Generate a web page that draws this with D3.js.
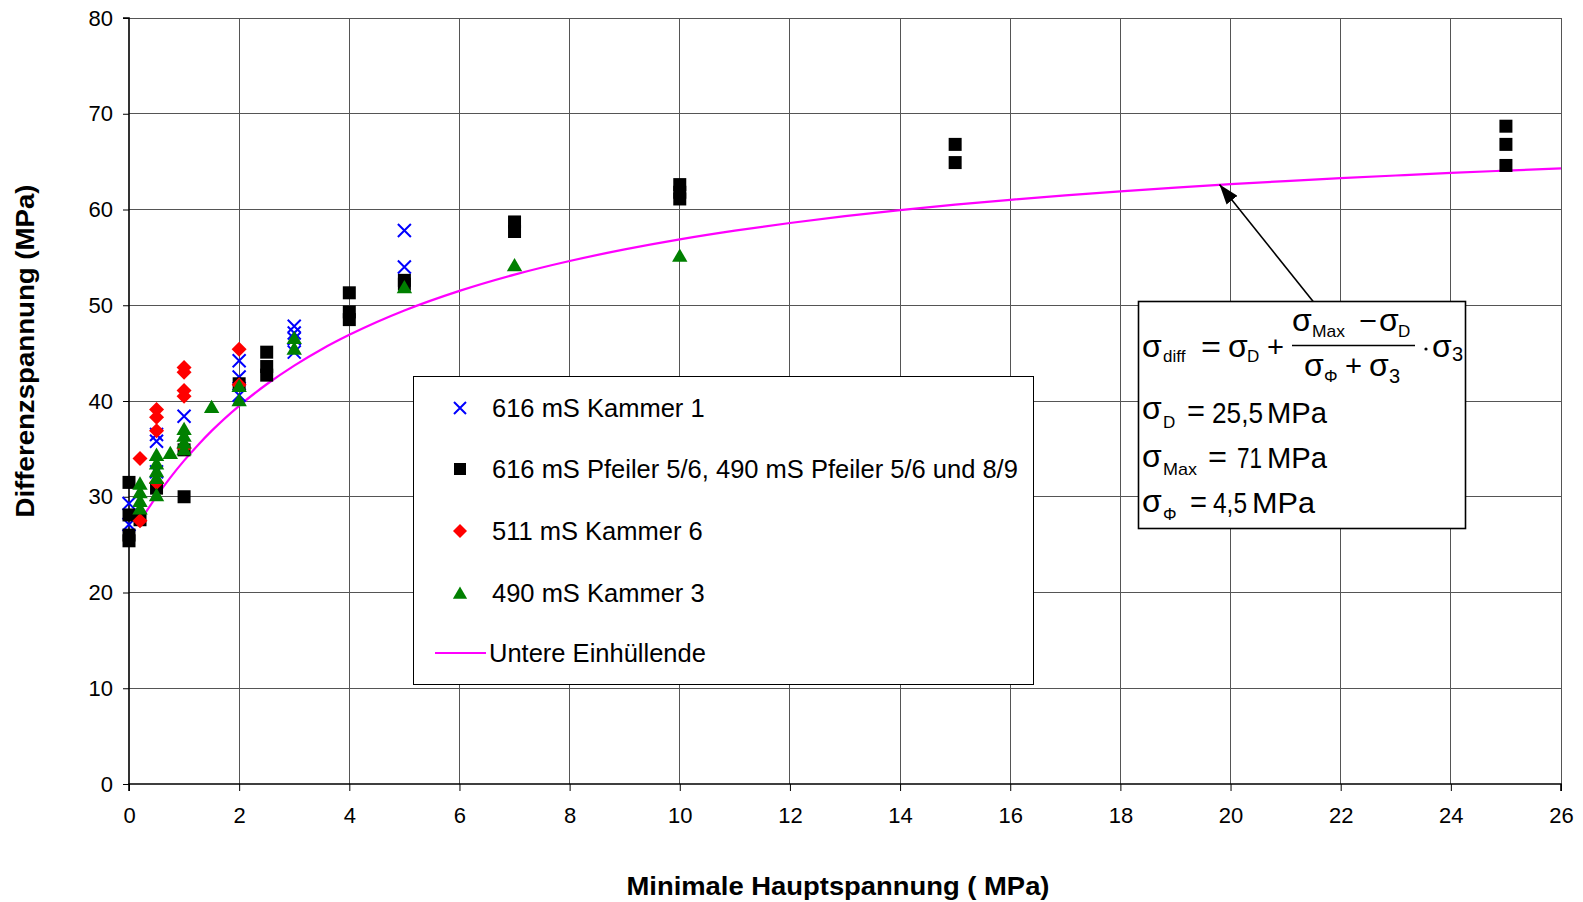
<!DOCTYPE html>
<html>
<head>
<meta charset="utf-8">
<script src="https://cdn.jsdelivr.net/npm/d3@7"></script>
<style>
  html, body { margin: 0; padding: 0; background: #fff; }
  svg { display: block; }
  text { font-family: "Liberation Sans", Arial, sans-serif; }
</style>
</head>
<body>
<svg id="chart" width="1583" height="902"></svg>
<script>
// ---------------- data ----------------
const xTicks = [0, 2, 4, 6, 8, 10, 12, 14, 16, 18, 20, 22, 24, 26];
const yTicks = [0, 10, 20, 30, 40, 50, 60, 70, 80];

const seriesNames = [
  "616 mS Kammer 1",
  "616 mS Pfeiler 5/6, 490 mS Pfeiler 5/6 und 8/9",
  "511 mS Kammer 6",
  "490 mS Kammer 3",
  "Untere Einhüllende"
];

// 616 mS Kammer 1 (blue x)
const kammer1X = [0, 0, 0.5, 0.5, 0.5, 1, 2, 2, 2, 3, 3, 3, 3, 5, 5];
const kammer1Y = [29.3, 27.1, 36.5, 35.8, 32.6, 38.4, 44.2, 42.5, 40.6, 47.8, 47.1, 46.5, 45.1, 57.8, 54.0];

// 616 mS Pfeiler 5/6, 490 mS Pfeiler 5/6 und 8/9 (black squares)
const pfeilerX = [0, 0, 0, 0, 0.2, 0.5, 1, 1, 2, 2.5, 2.5, 2.5, 4, 4, 4, 5, 5, 7, 7, 10, 10, 10, 15, 15, 25, 25, 25];
const pfeilerY = [31.5, 28.1, 26.0, 25.4, 27.6, 30.9, 34.9, 30.0, 41.8, 45.1, 43.6, 42.7, 51.3, 49.3, 48.5, 52.6, 52.2, 58.7, 57.7, 62.6, 61.8, 61.1, 66.8, 64.9, 68.7, 66.8, 64.6];

// 511 mS Kammer 6 (red diamonds)
const kammer6X = [0.2, 0.2, 0.5, 0.5, 0.5, 0.5, 1, 1, 1, 1, 1, 2, 2];
const kammer6Y = [34.0, 27.5, 39.1, 38.3, 36.9, 31.5, 43.5, 43.0, 41.1, 40.5, 35.1, 45.4, 41.7];

// 490 mS Kammer 3 (green triangles)
const kammer3X = [0.2, 0.2, 0.2, 0.2, 0.5, 0.5, 0.5, 0.5, 0.5, 0.75, 1, 1, 1, 1, 1.5, 2, 2, 3, 3, 5, 7, 10];
const kammer3Y = [31.4, 30.5, 29.6, 28.8, 34.4, 33.5, 32.7, 32.0, 30.2, 34.6, 37.1, 36.4, 35.7, 35.0, 39.4, 41.6, 40.1, 46.6, 45.5, 51.9, 54.2, 55.2];

// Untere Einhüllende (magenta line)
const envX = [0.2, 0.5, 0.75, 1, 1.25, 1.5, 2, 2.5, 3, 3.5, 4, 4.5, 5, 6, 7, 8, 9, 10, 11, 12, 13, 14, 15, 16, 17, 18, 19, 20, 21, 22, 23, 24, 25, 26];
const envY = [27.44, 30.05, 32.0, 33.77, 35.39, 36.88, 39.5, 41.75, 43.7, 45.41, 46.91, 48.25, 49.45, 51.5, 53.2, 54.62, 55.83, 56.88, 57.79, 58.59, 59.3, 59.93, 60.5, 61.01, 61.48, 61.9, 62.29, 62.64, 62.97, 63.27, 63.55, 63.82, 64.06, 64.29];

// annotation arrow (data coordinates): from box to curve
const arrowFrom = [21.5, 50.4];
const arrowTo = [19.8, 62.6];

// ---------------- layout ----------------
const W = 1583, H = 902;
const margin = { left: 129, right: 22, top: 18, bottom: 118 };
const svg = d3.select("#chart");

const x = d3.scaleLinear().domain([0, 26]).range([margin.left, W - margin.right]);
const y = d3.scaleLinear().domain([0, 80]).range([H - margin.bottom, margin.top]);

const zip = (a, b) => a.map((v, i) => [v, b[i]]);

// gridlines
const grid = svg.append("g").attr("shape-rendering", "crispEdges");
grid.selectAll("line.h").data(yTicks.filter(d => d > 0)).join("line")
  .attr("x1", x(0)).attr("x2", x(26))
  .attr("y1", d => y(d)).attr("y2", d => y(d))
  .attr("stroke", "#555").attr("stroke-width", 1);
grid.selectAll("line.v").data(xTicks.filter(d => d > 0)).join("line")
  .attr("x1", d => x(d)).attr("x2", d => x(d))
  .attr("y1", y(0)).attr("y2", y(80))
  .attr("stroke", "#555").attr("stroke-width", 1);

// axes
const yAxis = svg.append("g").attr("transform", `translate(${x(0)},0)`)
  .call(d3.axisLeft(y).tickValues(yTicks).tickSize(6).tickPadding(10).tickFormat(d3.format("d")));
const xAxis = svg.append("g").attr("transform", `translate(0,${y(0)})`)
  .call(d3.axisBottom(x).tickValues(xTicks).tickSize(7).tickPadding(16).tickFormat(d3.format("d")));
[yAxis, xAxis].forEach(g => {
  g.select(".domain").attr("stroke", "#000").attr("stroke-width", 1.6);
  g.selectAll(".tick line").attr("stroke", "#000").attr("stroke-width", 1);
  g.selectAll(".tick text").attr("font-size", 22).attr("fill", "#000")
    .attr("font-family", "Liberation Sans, Arial, sans-serif");
});
yAxis.select(".domain").attr("d", `M-6,${y(80)}H0V${y(0)}`);
xAxis.select(".domain").attr("d", `M${x(0)},7V0H${x(26)}V7`);

// axis titles
svg.append("text")
  .attr("transform", `translate(34,${(y(0) + y(80)) / 2 - 50}) rotate(-90)`)
  .attr("text-anchor", "middle")
  .attr("font-size", 26).attr("font-weight", "bold")
  .attr("textLength", 333).attr("lengthAdjust", "spacingAndGlyphs")
  .text("Differenzspannung (MPa)");
svg.append("text")
  .attr("x", 838).attr("y", 895)
  .attr("text-anchor", "middle")
  .attr("font-size", 26).attr("font-weight", "bold")
  .attr("textLength", 423).attr("lengthAdjust", "spacingAndGlyphs")
  .text("Minimale Hauptspannung ( MPa)");

// envelope line
const line = d3.line().x(d => x(d[0])).y(d => y(d[1])).curve(d3.curveMonotoneX);
svg.append("path").datum(zip(envX, envY))
  .attr("d", line).attr("fill", "none")
  .attr("stroke", "#ff00ff").attr("stroke-width", 2.2);

// marker shapes
const crossPath = s => `M${-s},${-s}L${s},${s}M${-s},${s}L${s},${-s}`;
const squarePath = s => `M${-s},${-s}H${s}V${s}H${-s}Z`;
const diamondPath = s => `M0,${-s}L${s},0L0,${s}L${-s},0Z`;
const triPath = s => `M0,${-s}L${s * 1.1},${s * 0.9}L${-s * 1.1},${s * 0.9}Z`;

function drawCross(g, pts, s) {
  g.selectAll(null).data(pts).join("path")
    .attr("transform", d => `translate(${x(d[0])},${y(d[1])})`)
    .attr("d", crossPath(s)).attr("stroke", "#0000ff").attr("stroke-width", 2).attr("fill", "none");
}
function drawFilled(g, pts, path, color) {
  g.selectAll(null).data(pts).join("path")
    .attr("transform", d => `translate(${x(d[0])},${y(d[1])})`)
    .attr("d", path).attr("fill", color);
}

const marks = svg.append("g");
drawCross(marks.append("g"), zip(kammer1X, kammer1Y), 6.5);
drawFilled(marks.append("g"), zip(pfeilerX, pfeilerY), squarePath(6.5), "#000");
drawFilled(marks.append("g"), zip(kammer6X, kammer6Y), diamondPath(7.5), "#ff0000");
drawFilled(marks.append("g"), zip(kammer3X, kammer3Y), triPath(7), "#008000");

// legend
const lg = svg.append("g");
lg.append("rect").attr("x", 413.5).attr("y", 376.5).attr("width", 620).attr("height", 308)
  .attr("fill", "#fff").attr("stroke", "#000").attr("stroke-width", 1);
const rowsY = [408, 469, 531, 593, 653];
const mx = 460;
lg.append("path").attr("transform", `translate(${mx},${rowsY[0]})`).attr("d", crossPath(6))
  .attr("stroke", "#0000ff").attr("stroke-width", 2).attr("fill", "none");
lg.append("path").attr("transform", `translate(${mx},${rowsY[1]})`).attr("d", squarePath(6)).attr("fill", "#000");
lg.append("path").attr("transform", `translate(${mx},${rowsY[2]})`).attr("d", diamondPath(7)).attr("fill", "#ff0000");
lg.append("path").attr("transform", `translate(${mx},${rowsY[3]})`).attr("d", triPath(6.5)).attr("fill", "#008000");
lg.append("line").attr("x1", 435).attr("x2", 486).attr("y1", rowsY[4]).attr("y2", rowsY[4])
  .attr("stroke", "#ff00ff").attr("stroke-width", 2.2);
lg.selectAll("text.l").data(seriesNames).join("text")
  .attr("x", (d, i) => i === 4 ? 489 : 492)
  .attr("y", (d, i) => rowsY[i] + 9)
  .attr("font-size", 25.5).attr("fill", "#000")
  .text(d => d);

// arrow
svg.append("defs").append("marker")
  .attr("id", "ah").attr("viewBox", "0 0 20 14").attr("refX", 20).attr("refY", 7)
  .attr("markerWidth", 20).attr("markerHeight", 14).attr("markerUnits", "userSpaceOnUse")
  .attr("orient", "auto")
  .append("path").attr("d", "M0,0L20,7L0,14Z").attr("fill", "#000");
svg.append("line")
  .attr("x1", x(arrowFrom[0])).attr("y1", y(arrowFrom[1]))
  .attr("x2", x(arrowTo[0])).attr("y2", y(arrowTo[1]))
  .attr("stroke", "#000").attr("stroke-width", 1.6).attr("marker-end", "url(#ah)");

// formula box
const fb = svg.append("g");
fb.append("rect").attr("x", 1138.5).attr("y", 301.5).attr("width", 327).attr("height", 227)
  .attr("fill", "#fff").attr("stroke", "#000").attr("stroke-width", 1.6);

function T(txt, px, py, size, cls, len) {
  const t = fb.append("text").attr("x", px).attr("y", py).attr("font-size", size).attr("fill", "#000").text(txt);
  if (cls === "serif") t.attr("font-family", "Liberation Serif, Times New Roman, serif");
  if (len) t.attr("textLength", len).attr("lengthAdjust", "spacingAndGlyphs");
  return t;
}
const SIG = 32;
// row 1: sigma_diff = sigma_D + (sigma_Max - sigma_D)/(sigma_Phi + sigma_3) * sigma_3
T("σ", 1142, 357, SIG, "serif");
T("diff", 1163, 362, 17);
T("=", 1201, 357, 30, "serif", 20);
T("σ", 1228, 357, SIG, "serif");
T("D", 1247, 362, 17);
T("+", 1267, 357, 30, "serif", 17);
T("σ", 1292, 331, SIG, "serif");
T("Max", 1312, 337, 17, null, 33);
T("−", 1359, 331, 30, "serif", 18);
T("σ", 1379, 331, SIG, "serif");
T("D", 1398, 337, 17);
fb.append("line").attr("x1", 1292).attr("x2", 1415).attr("y1", 345.5).attr("y2", 345.5)
  .attr("stroke", "#000").attr("stroke-width", 1.3);
T("σ", 1304, 376, SIG, "serif");
T("Φ", 1324, 382, 17, "serif");
T("+", 1345, 376, 30, "serif", 17);
T("σ", 1369, 376, SIG, "serif");
T("3", 1389, 383, 20, "serif");
fb.append("circle").attr("cx", 1426).attr("cy", 349).attr("r", 1.6).attr("fill", "#000");
T("σ", 1432, 357, SIG, "serif");
T("3", 1452, 361, 20, "serif");
// row 2
T("σ", 1142, 419, SIG, "serif");
T("D", 1163, 428, 17);
T("=", 1187, 421, 30, "serif", 18);
T("25,5", 1212, 423, 29, "serif", 51);
T("MPa", 1267, 423, 29, null, 60);
// row 3
T("σ", 1142, 467, SIG, "serif");
T("Max", 1163, 475, 17, null, 34);
T("=", 1208, 467, 30, "serif", 19);
T("71", 1237, 468, 29, "serif", 25);
T("MPa", 1267, 468, 29, null, 60);
// row 4
T("σ", 1142, 512, SIG, "serif");
T("Φ", 1163, 520, 17, "serif");
T("=", 1190, 512, 30, "serif", 17);
T("4,5", 1213, 513, 29, "serif", 34);
T("MPa", 1252, 513, 29, null, 63);
</script>
</body>
</html>
